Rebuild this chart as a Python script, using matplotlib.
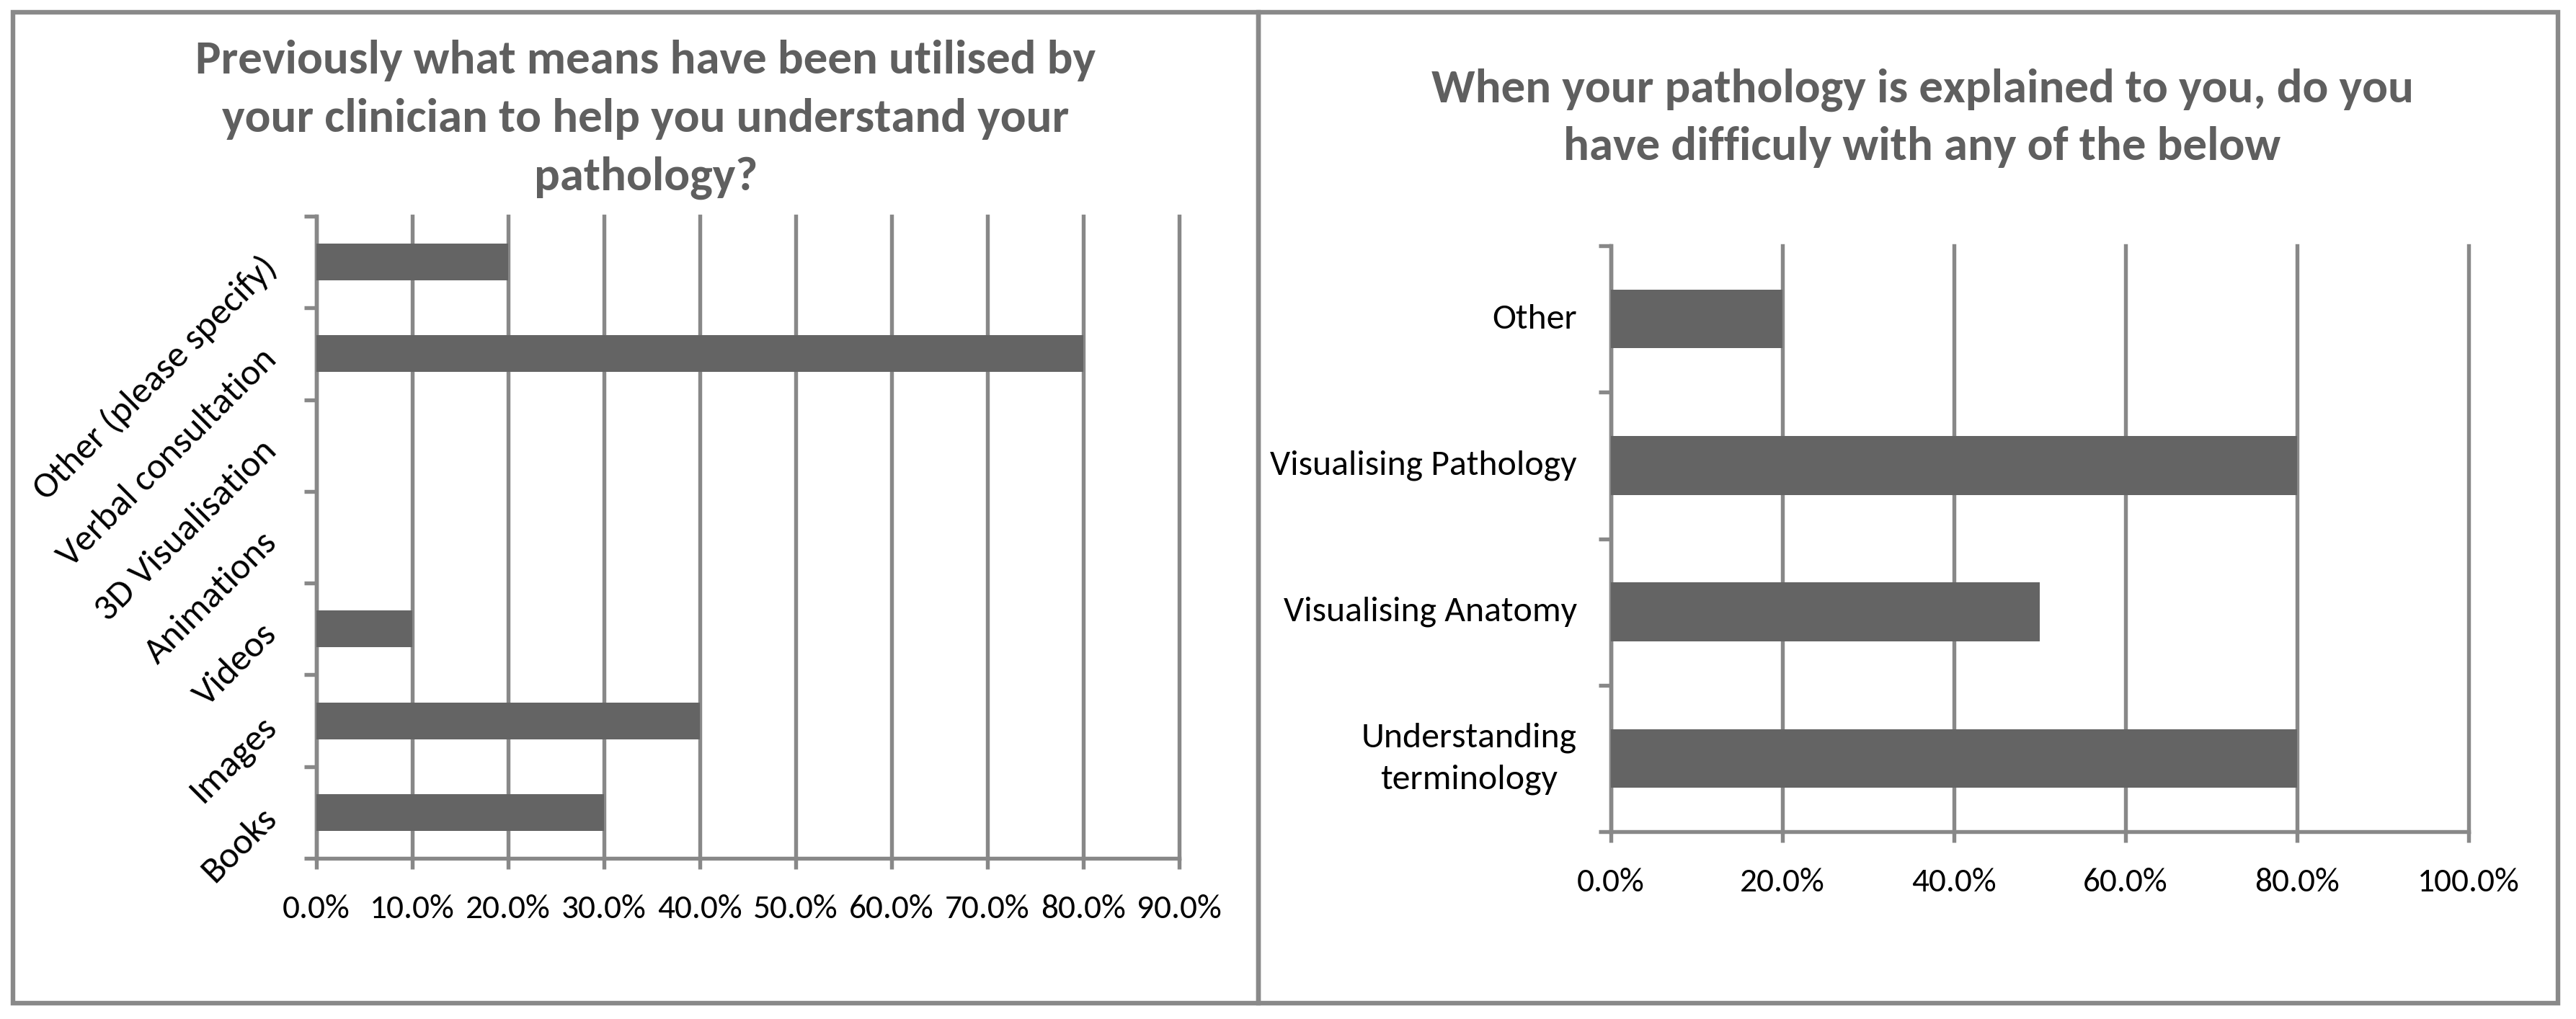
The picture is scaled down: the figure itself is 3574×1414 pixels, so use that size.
import matplotlib
matplotlib.use("Agg")
import matplotlib.pyplot as plt
from matplotlib import font_manager
from matplotlib.patches import Rectangle
import numpy as np

# ---------------- data ----------------
left_title_lines = [
    "Previously what means have been utilised by",
    "your clinician to help you understand your",
    "pathology?",
]
left_categories = ["Books", "Images", "Videos", "Animations",
                   "3D Visualisation", "Verbal consultation",
                   "Other (please specify)"]
left_values = [30, 40, 10, 0, 0, 80, 20]
left_xticks = [0, 10, 20, 30, 40, 50, 60, 70, 80, 90]

right_title_lines = [
    "When your pathology is explained to you, do you",
    "have difficuly with any of the below",
]
right_categories = ["Understanding\nterminology", "Visualising Anatomy",
                    "Visualising Pathology", "Other"]
right_values = [80, 50, 80, 20]
right_xticks = [0, 20, 40, 60, 80, 100]

# ---------------- fonts ----------------
avail = {f.name for f in font_manager.fontManager.ttflist}
if "Carlito" in avail:
    FONT, K = "Carlito", 1.0
else:
    FONT, K = "Liberation Sans", 0.905
plt.rcParams["font.family"] = [FONT, "DejaVu Sans"]

W, H = 3574, 1414
fig = plt.figure(figsize=(W / 100, H / 100), dpi=100)


def fx(px):
    return px / W


def fy(py):
    return 1 - py / H


GRID = "#888888"
BAR = "#646464"
TITLE = "#5f5f5f"
LW = 3.9

# panel borders
for x0, x1 in [(18, 1746), (1746, 3549)]:
    fig.add_artist(Rectangle((fx(x0), fy(1392)), fx(x1) - fx(x0),
                             fy(17) - fy(1392), transform=fig.transFigure,
                             fill=False, edgecolor="#898989", linewidth=4.6))


def make_axes(rect_px, cats, vals, xticks, ylab_size, ylab_pad, rotated):
    l, t, r, b = rect_px
    ax = fig.add_axes([fx(l), fy(b), fx(r) - fx(l), fy(t) - fy(b)])
    n = len(cats)
    y = np.arange(n)
    ax.barh(y, vals, height=0.4, color=BAR, zorder=3)
    ax.set_ylim(-0.5, n - 0.5)
    ax.set_xlim(0, xticks[-1])
    ax.set_xticks(xticks)
    ax.set_xticklabels([f"{v:.1f}%" for v in xticks])
    ax.set_yticks(np.arange(n + 1) - 0.5)
    ax.set_yticklabels([])
    ax.set_yticks(y, minor=True)
    ax.set_yticklabels(cats, minor=True)
    ax.tick_params(axis="y", which="minor", length=0, pad=ylab_pad,
                   labelsize=ylab_size)
    ax.tick_params(axis="y", which="major", length=12, width=LW,
                   color=GRID)
    ax.tick_params(axis="x", which="major", length=11, width=LW,
                   color=GRID, labelsize=34 * K, pad=25)
    for s in ["top", "right"]:
        ax.spines[s].set_visible(False)
    for s in ["left", "bottom"]:
        ax.spines[s].set_color(GRID)
        ax.spines[s].set_linewidth(LW)
    ax.grid(axis="x", color=GRID, linewidth=LW)
    ax.set_axisbelow(True)
    for gl in ax.get_xgridlines():
        gl.set_clip_on(False)
    labs = ax.get_yticklabels(minor=True)
    if rotated:
        plt.setp(labs, rotation=45, ha="right", va="center",
                 rotation_mode="anchor")
    else:
        plt.setp(labs, ha="right", va="center", multialignment="center",
                 linespacing=1.45)
    return ax


axL = make_axes((439, 300, 1636, 1191), left_categories, left_values,
                left_xticks, 37 * K, 45, True)
axR = make_axes((2235, 341, 3425, 1154), right_categories, right_values,
                right_xticks, 35.8 * K, 34, False)

TSIZE = 48.2 * K
for line, base in zip(left_title_lines, [102, 183, 264]):
    fig.text(fx(896), fy(base), line, ha="center", va="baseline",
             fontsize=TSIZE, fontweight="bold", color=TITLE)
for line, base in zip(right_title_lines, [142, 222]):
    fig.text(fx(2667), fy(base), line, ha="center", va="baseline",
             fontsize=TSIZE, fontweight="bold", color=TITLE)

fig.savefig("out.png", dpi=100, facecolor="white")
